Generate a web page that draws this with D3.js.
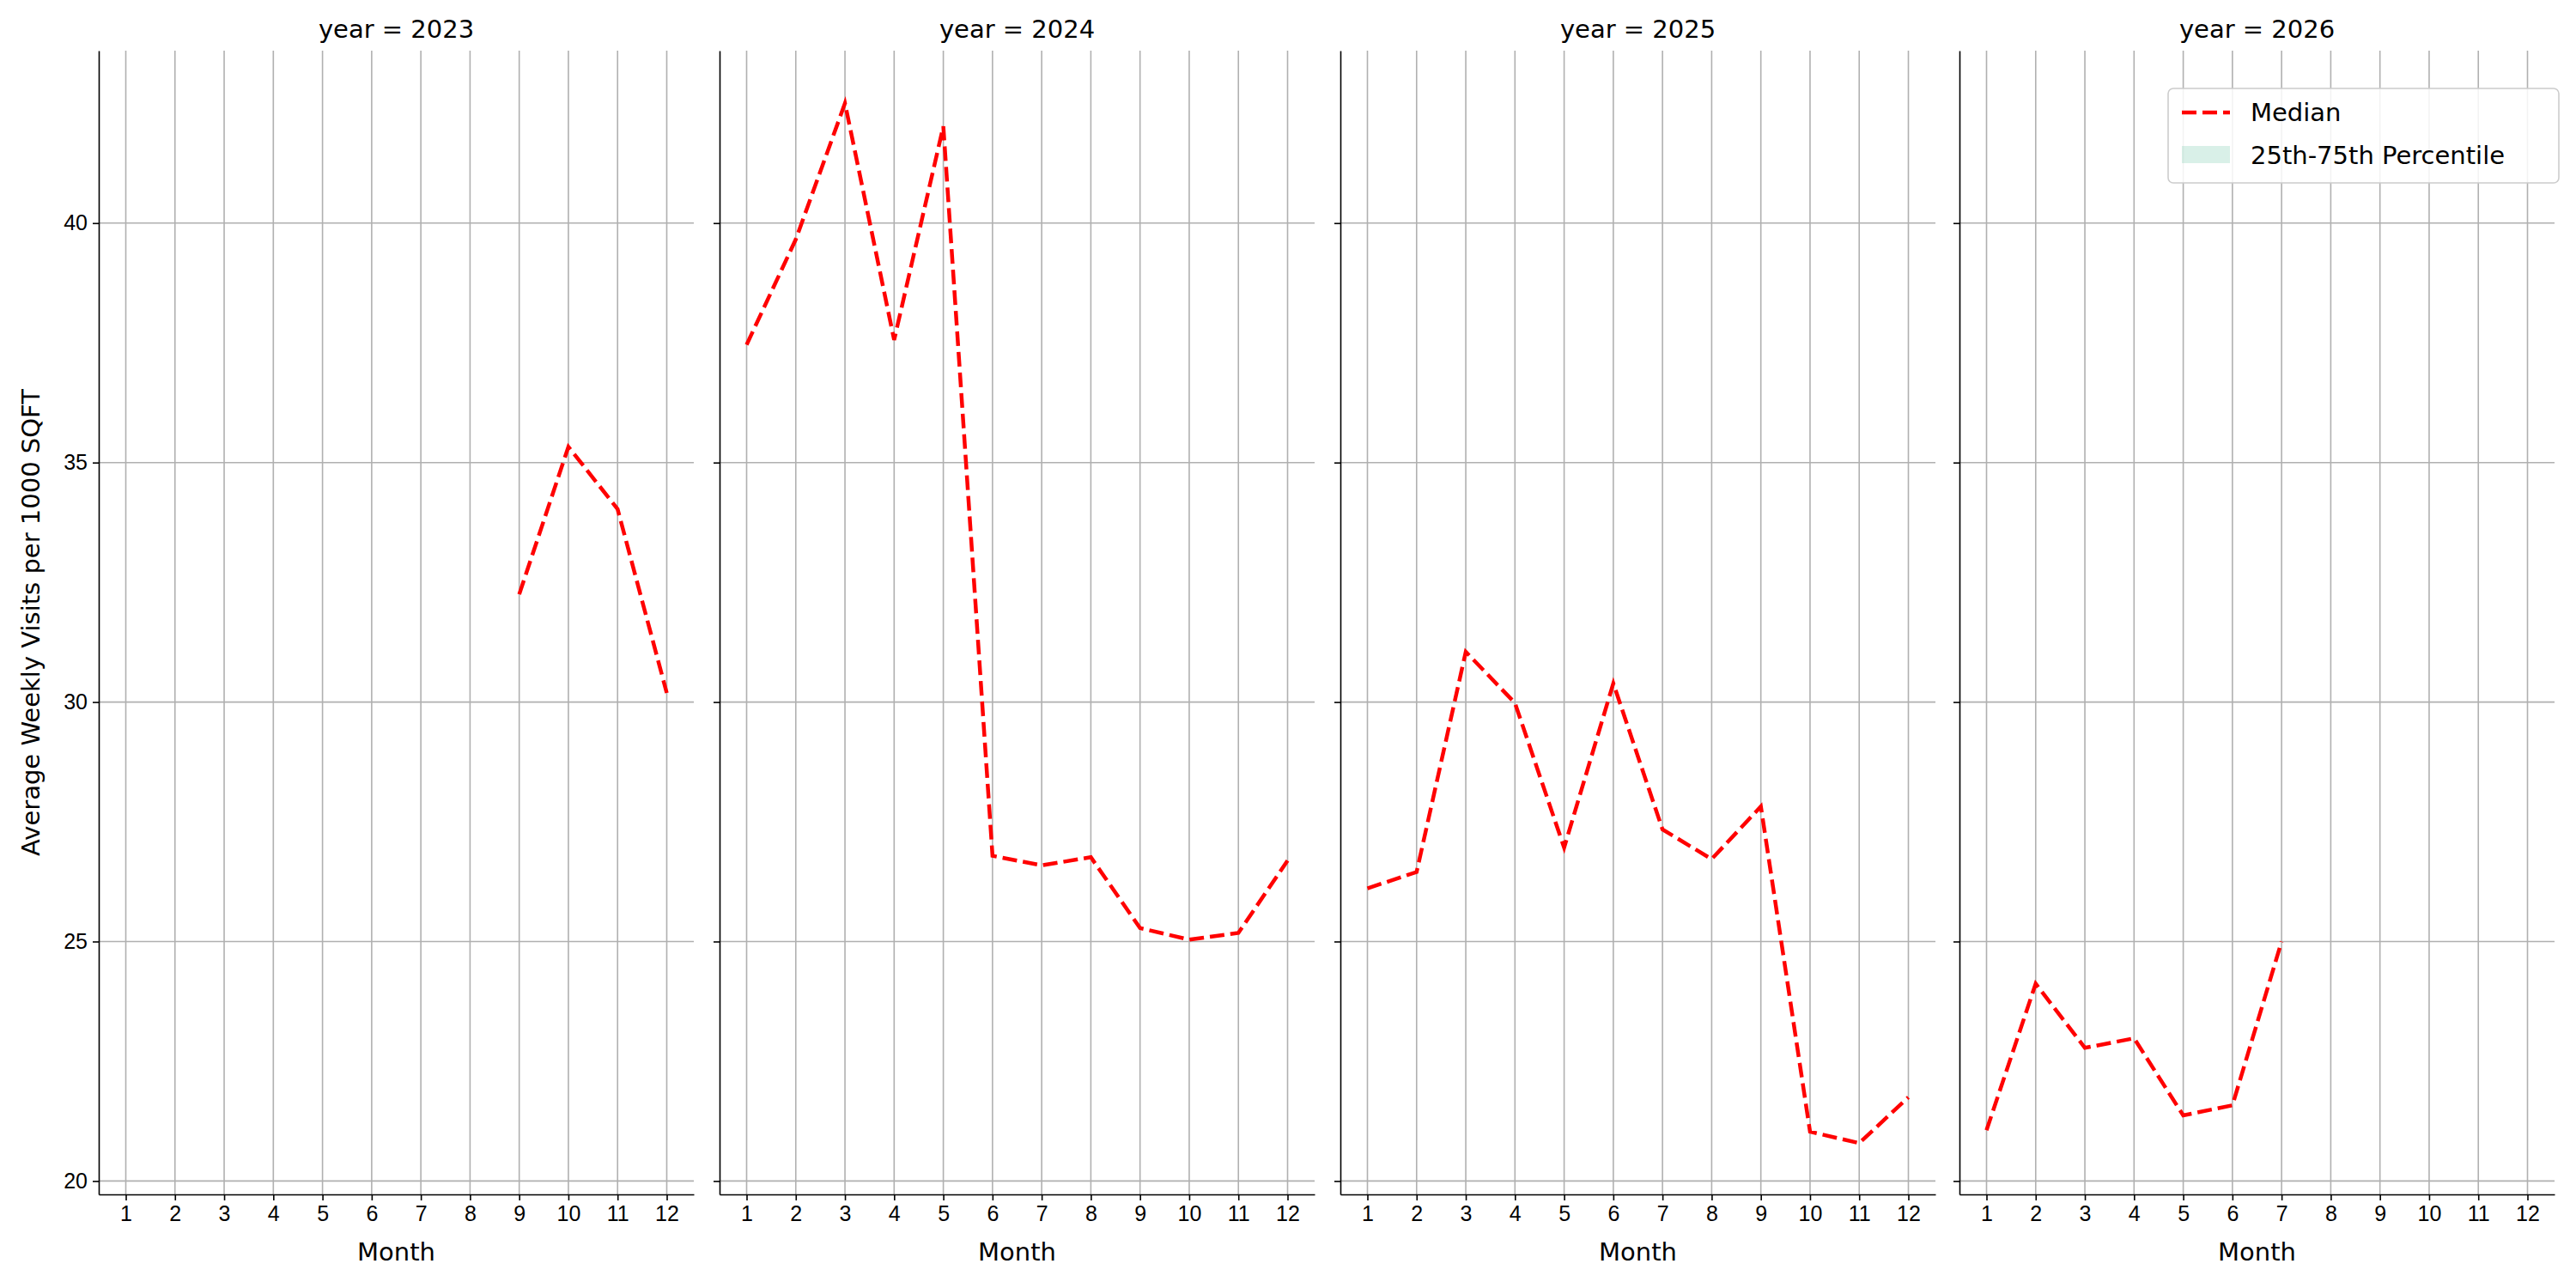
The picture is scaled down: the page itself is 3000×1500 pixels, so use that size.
<!DOCTYPE html>
<html><head><meta charset="utf-8">
<script src="https://cdn.jsdelivr.net/npm/d3@7"></script>
<style>body{margin:0;background:#fff}svg{font-family:"DejaVu Sans",sans-serif}</style>
</head><body><svg id="c" width="3000" height="1500"></svg>
<script>
const years = [2023, 2024, 2025, 2026];
const months = [1,2,3,4,5,6,7,8,9,10,11,12];
const yTicks = [20,25,30,35,40];
const median2023 = [null,null,null,null,null,null,null,null,32.25,35.33,34.03,30.19];
const median2024 = [37.46,39.66,42.5,37.56,42.02,26.79,26.59,26.76,25.28,25.04,25.18,26.69];
const median2025 = [26.11,26.45,31.05,29.98,26.96,30.39,27.34,26.72,27.82,21.03,20.79,21.75];
const median2026 = [21.06,24.12,22.78,22.98,21.37,21.58,25.0,null,null,null,null,null];
const medians = [median2023, median2024, median2025, median2026];

(function(){
const svg = d3.select("#c");
const panelX = [115, 838, 1561, 2282], pw = 693, pTop = 59, pBottom = 1391;
const y = d3.scaleLinear().domain([19.72, 43.6]).range([pBottom, pTop]);
const fs = 25;

years.forEach((yr, i) => {
  const g = svg.append("g").attr("transform", `translate(${panelX[i]},0)`);
  const x = d3.scaleLinear().domain([0.45, 12.55]).range([0, pw]);
  g.append("g").selectAll("line").data(months).join("line")
    .attr("x1", d=>x(d)).attr("x2", d=>x(d)).attr("y1", pTop).attr("y2", pBottom)
    .attr("stroke", "#b0b0b0").attr("stroke-width", 1.6);
  g.append("g").selectAll("line").data(yTicks).join("line")
    .attr("x1", 0).attr("x2", pw).attr("y1", d=>y(d)).attr("y2", d=>y(d))
    .attr("stroke", "#b0b0b0").attr("stroke-width", 1.6);
  const xa = g.append("g").attr("transform", `translate(0,${pBottom})`)
    .call(d3.axisBottom(x).tickValues(months).tickSize(7).tickPadding(6).tickSizeOuter(0));
  xa.select(".domain").attr("stroke", "#000").attr("stroke-width", 1.6);
  xa.selectAll("text").attr("font-size", fs).attr("fill", "#000");
  xa.selectAll(".tick line").attr("stroke-width", 1.6);
  const ya = g.append("g").call(d3.axisLeft(y).tickValues(yTicks).tickSize(7).tickPadding(6).tickSizeOuter(0));
  ya.select(".domain").attr("stroke", "#000").attr("stroke-width", 1.6);
  ya.selectAll(".tick line").attr("stroke-width", 1.6);
  ya.selectAll("text").attr("font-size", fs).attr("fill", "#000");
  if (i > 0) ya.selectAll("text").remove();
  const data = months.map((m, k) => ({m, v: medians[i][k]}));
  g.append("path").datum(data)
    .attr("d", d3.line().defined(d=>d.v!=null).x(d=>x(d.m)).y(d=>y(d.v)))
    .attr("fill", "none").attr("stroke", "#ff0000").attr("stroke-width", 4.5)
    .attr("stroke-dasharray", "17,7");
  g.append("text").attr("x", pw/2).attr("y", 44).attr("text-anchor", "middle")
    .attr("font-size", 29).text(`year = ${yr}`);
  g.append("text").attr("x", pw/2).attr("y", 1468).attr("text-anchor", "middle")
    .attr("font-size", 29).text("Month");
});

svg.append("text").attr("transform", "translate(46,725) rotate(-90)")
  .attr("text-anchor", "middle").attr("font-size", 29).text("Average Weekly Visits per 1000 SQFT");

const lg = svg.append("g").attr("transform", "translate(2525,103)");
lg.append("rect").attr("width", 455).attr("height", 110).attr("rx", 6)
  .attr("fill", "#fff").attr("fill-opacity", 0.85).attr("stroke", "#ccc").attr("stroke-width", 1.6);
lg.append("line").attr("x1", 16).attr("x2", 72).attr("y1", 28).attr("y2", 28)
  .attr("stroke", "#ff0000").attr("stroke-width", 4.5).attr("stroke-dasharray", "17,7");
lg.append("text").attr("x", 96).attr("y", 38).attr("font-size", 29).text("Median");
lg.append("rect").attr("x", 16).attr("y", 67).attr("width", 56).attr("height", 20)
  .attr("fill", "#66c2a5").attr("opacity", 0.25);
lg.append("text").attr("x", 96).attr("y", 88).attr("font-size", 29).text("25th-75th Percentile");
})();
</script></body></html>
